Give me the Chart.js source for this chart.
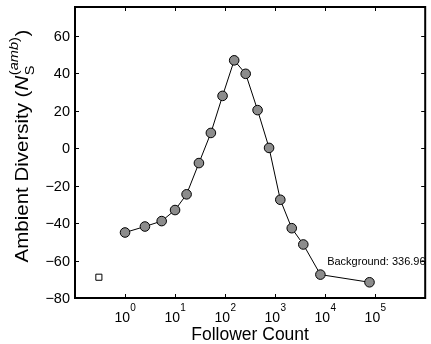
<!DOCTYPE html>
<html>
<head>
<meta charset="utf-8">
<script src="https://cdn.jsdelivr.net/npm/chart.js@4/dist/chart.umd.min.js"></script>
<style>
  html, body { margin: 0; padding: 0; background: #fff; }
  #wrap { width: 431px; height: 344px; position: relative; }
</style>
</head>
<body>
<div id="wrap"><canvas id="c" width="431" height="344"></canvas></div>
<script>
// ---- Data ----
const followerCounts = [1, 2.5, 5.4, 10, 17, 30, 52, 89, 152, 258, 446, 757, 1270, 2150, 3660, 8040, 77000];
const ambientDiversity = [-45, -41.8, -38.9, -33, -24.6, -7.9, 8.2, 28, 47, 39.8, 20.4, 0.2, -27.5, -42.7, -51.4, -67.5, -71.6];
const backgroundX = [0.3];
const backgroundY = [-68.9];
const xTickExponents = [0, 1, 2, 3, 4, 5];
const yTickValues = [-80, -60, -40, -20, 0, 20, 40, 60];
const annotationText = "Background: 336.96";
const annotationAt = [10000, -62.5];
const xLabel = "Follower Count";
const yLabelMain = "Ambient Diversity (";
const yLabelN = "N";
const yLabelSub = "S";
const yLabelSupOpen = "(";
const yLabelSupMid = "amb";
const yLabelSupClose = ")";
const yLabelEnd = ")";

const FONT = '"Liberation Sans", Arial, Helvetica, sans-serif';

const mainPoints = followerCounts.map((x, i) => ({ x: x, y: ambientDiversity[i] }));
const bgPoints = backgroundX.map((x, i) => ({ x: x, y: backgroundY[i] }));

const decorPlugin = {
  id: 'decor',
  afterDraw(chart) {
    const ctx = chart.ctx;
    const a = chart.chartArea;
    const xs = chart.scales.x, ys = chart.scales.y;
    ctx.save();
    // ticks (inward, all sides)
    ctx.strokeStyle = '#000';
    ctx.lineWidth = 1;
    const tl = 4;
    ctx.beginPath();
    xTickExponents.forEach(e => {
      const px = Math.round(xs.getPixelForValue(Math.pow(10, e))) + 0.5;
      ctx.moveTo(px, a.bottom); ctx.lineTo(px, a.bottom - tl);
      ctx.moveTo(px, a.top); ctx.lineTo(px, a.top + tl);
    });
    yTickValues.forEach(v => {
      const py = Math.round(ys.getPixelForValue(v)) + 0.5;
      ctx.moveTo(a.left, py); ctx.lineTo(a.left + tl, py);
      ctx.moveTo(a.right, py); ctx.lineTo(a.right - tl, py);
    });
    ctx.stroke();
    // box
    ctx.lineWidth = 2;
    ctx.strokeRect(a.left, a.top, a.right - a.left, a.bottom - a.top);

    ctx.fillStyle = '#000';
    // y tick labels
    ctx.font = '14.5px ' + FONT;
    ctx.textAlign = 'right';
    ctx.textBaseline = 'middle';
    yTickValues.forEach(v => {
      const py = ys.getPixelForValue(v);
      const s = v < 0 ? '\u2212' + Math.abs(v) : String(v);
      ctx.fillText(s, a.left - 5, py + 1);
    });
    // x tick labels 10^n
    ctx.textBaseline = 'alphabetic';
    ctx.textAlign = 'left';
    xTickExponents.forEach(e => {
      const px = xs.getPixelForValue(Math.pow(10, e));
      ctx.font = '14px ' + FONT;
      const w1 = ctx.measureText('10').width;
      ctx.font = '10px ' + FONT;
      const w2 = ctx.measureText(String(e)).width;
      const x0 = px - (w1 + w2) / 2;
      ctx.font = '14px ' + FONT;
      ctx.fillText('10', x0, a.bottom + 24);
      ctx.font = '10px ' + FONT;
      ctx.fillText(String(e), x0 + w1 + 0.3, a.bottom + 13);
    });
    // x axis title
    ctx.font = '17.5px ' + FONT;
    ctx.textAlign = 'center';
    ctx.fillText(xLabel, (a.left + a.right) / 2, 340);

    // y axis title (rotated, with sub/superscript)
    ctx.save();
    ctx.translate(28, 146);
    ctx.rotate(-Math.PI / 2);
    ctx.scale(1.17, 1);
    ctx.textAlign = 'left';
    const fMain = '17.5px ' + FONT;
    const fMainI = 'italic 17.5px ' + FONT;
    const fSmall = '12.5px ' + FONT;
    const fSmallI = 'italic 12.5px ' + FONT;
    ctx.font = fMain;
    const wm = ctx.measureText(yLabelMain).width;
    const we = ctx.measureText(yLabelEnd).width;
    ctx.font = fMainI;
    const wn = ctx.measureText(yLabelN).width;
    ctx.font = fSmall;
    const wsub = ctx.measureText(yLabelSub).width;
    const wpo = ctx.measureText(yLabelSupOpen).width;
    const wpc = ctx.measureText(yLabelSupClose).width;
    ctx.font = fSmallI;
    const wmid = ctx.measureText(yLabelSupMid).width;
    const wsup = wpo + wmid + wpc;
    const total = wm + wn + Math.max(wsub, wsup) + 1 + we;
    let x0 = -total / 2;
    ctx.font = fMain;
    ctx.fillText(yLabelMain, x0, 0);
    x0 += wm;
    ctx.font = fMainI;
    ctx.fillText(yLabelN, x0, 0);
    x0 += wn;
    ctx.font = fSmall;
    ctx.fillText(yLabelSub, x0 + 0.5, 6);
    ctx.fillText(yLabelSupOpen, x0 + 0.5, -10);
    ctx.font = fSmallI;
    ctx.fillText(yLabelSupMid, x0 + 0.5 + wpo, -10);
    ctx.font = fSmall;
    ctx.fillText(yLabelSupClose, x0 + 0.5 + wpo + wmid, -10);
    x0 += Math.max(wsub, wsup) + 1;
    ctx.font = fMain;
    ctx.fillText(yLabelEnd, x0, 0);
    ctx.restore();

    // annotation
    ctx.font = '11px ' + FONT;
    ctx.textAlign = 'left';
    ctx.fillText(annotationText, xs.getPixelForValue(annotationAt[0]) + 2, ys.getPixelForValue(annotationAt[1]));
    ctx.restore();
  }
};

new Chart(document.getElementById('c'), {
  type: 'scatter',
  data: {
    datasets: [
      {
        data: mainPoints,
        showLine: true,
        borderColor: '#000',
        borderWidth: 1,
        pointRadius: 4.8,
        pointBackgroundColor: '#8c8c8c',
        pointBorderColor: '#000',
        pointBorderWidth: 1,
        tension: 0
      },
      {
        data: bgPoints,
        showLine: false,
        pointStyle: 'rect',
        pointRadius: 4.3,
        pointBackgroundColor: '#fff',
        pointBorderColor: '#000',
        pointBorderWidth: 1
      }
    ]
  },
  options: {
    responsive: false,
    animation: false,
    events: [],
    layout: { padding: { left: 75, right: 1, top: 7, bottom: 46 } },
    plugins: { legend: { display: false }, tooltip: { enabled: false } },
    scales: {
      x: { type: 'logarithmic', min: 0.1, max: 1e6, display: false },
      y: { type: 'linear', min: -80, max: 75.5, display: false }
    }
  },
  plugins: [decorPlugin]
});
</script>
</body>
</html>
